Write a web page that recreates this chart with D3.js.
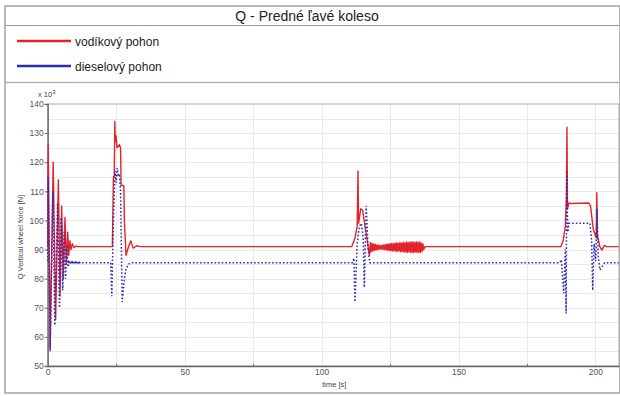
<!DOCTYPE html>
<html>
<head>
<meta charset="utf-8">
<script src="https://cdn.jsdelivr.net/npm/d3@7"></script>
<style>
  body { margin: 0; background: #fff; }
  svg { display: block; font-family: "Liberation Sans", Arial, sans-serif; }
</style>
</head>
<body>
<svg width="620" height="396"></svg>
<script>
// chart texts
title = "Q - Predné ľavé koleso";
seriesNames = ["vodíkový pohon", "dieselový pohon"];
seriesColors = ["#e3242b", "#2b2bb5"];
yLabel = "Q Vertical wheel force [N]";
xLabel = "time [s]";
yTicks = [50, 60, 70, 80, 90, 100, 110, 120, 130, 140];
xTicks = [0, 50, 100, 150, 200];

// red series (vodikovy), [time s, force kN]
redPts = [
  [0,91],[0.2,126],[0.9,56],[2.0,120],[2.9,66],[3.9,114],[4.5,74],[5.1,105],[5.7,80],
  [6.3,101],[6.8,85],[7.3,96],[7.7,88],[8.1,93],[8.5,90],[9.0,92],[9.6,90.6],[10.4,91.2],[11,91],
  [23.6,91],[24.0,115],[24.3,115],[24.5,134],[24.7,127],[25.0,129],[25.3,125],[26.2,126],
  [26.6,125],[26.8,112],[27.8,112],[28.0,100],[28.6,88],[29.2,90],[30.3,93],[31.2,90.5],[32.5,91.3],[34,91],
  [111.0,91],[112.2,94],[113.0,98],[113.3,117],[113.5,99],[114.3,104],[115.0,103.5],[116.0,97],[117.0,91],[117.5,88]
];
// the small vibration band after the 3rd event
bandStart = 117.8;
bandStep = 0.3;
bandVals = [
  92.4,89.2,92.1,89.5,91.9,89.7,91.8,89.9,91.6,90.0,91.5,90.1,91.4,90.2,91.4,90.1,
  91.6,90.0,91.7,89.9,91.8,89.8,91.9,89.7,92.0,89.6,92.1,89.5,92.0,89.6,92.2,89.4,
  92.3,89.4,92.1,89.5,92.4,89.2,92.2,89.4,92.5,89.1,92.3,89.3,92.6,89.0,92.4,89.2,
  92.6,89.0,92.5,89.1,92.7,88.9,92.4,89.2,92.6,89.0,92.5,89.1,92.6,89.0,92.3,89.4,92.0,90.0
];
redTail = [
  [137.8,91],[187.4,91],[188.2,93],[189.0,98],[189.4,108],[189.6,132],[189.8,104],[190.3,106],
  [191,105.8],[197.5,106],[198.2,105],[199.2,97],[200.3,94],[200.5,109.5],[200.7,95],[201.6,91],
  [202.4,89.8],[203.2,91.4],[204,91],[208.5,91]
];

// blue series (dieselovy)
bluePts = [
  [0,86],[0.2,115],[0.9,55],[1.9,110],[2.6,64],[3.6,106],[4.3,70],[4.9,101],[5.5,76],
  [6.0,96],[6.5,80],[7.0,91],[7.4,84],[7.8,86],[12,85.5],
  [23.0,85.5],[23.4,74],[24.0,100],[24.6,117],[25.0,113],[25.4,118],[25.8,115],[26.2,116],
  [26.6,110],[27.2,72],[28.0,80],[28.5,83],[29.5,85],[30.5,85.5],
  [111.3,85.5],[111.8,87],[112.2,72],[113.0,92],[113.8,98],[114.5,99],[115.2,94],[115.6,77],
  [116.3,105],[117.0,90],[117.6,85.5],
  [187.0,85.5],[187.6,86.5],[188.4,75],[189.0,90],[189.3,68],[189.5,117],[189.9,96],[190.3,99],
  [198.0,99],[198.6,93],[199.0,76],[199.5,92],[200.1,86],[200.6,104],[201.0,88],[201.6,83],
  [202.4,84],[203.3,85.5],[208.5,85.5]
];
// part that shows as a solid blue line
blueSolid = [[7.6,85.5],[12,85.5]];

const svg = d3.select("svg");
const W = 620, H = 396;

const plot = {left: 47.7, right: 619, top: 104, bottom: 366};

const x = d3.scaleLinear().domain([0, 208.6]).range([plot.left, plot.right]);
const y = d3.scaleLinear().domain([50, 140]).range([plot.bottom, plot.top]);

svg.append("rect").attr("width", W).attr("height", H).attr("fill", "#fff");

// frame + bands
const frame = svg.append("g").attr("fill", "none");
frame.append("rect").attr("x", 5).attr("y", 6).attr("width", 615).attr("height", 387)
  .attr("stroke", "#8a8a8a").attr("stroke-width", 1.2);
frame.append("line").attr("x1", 5).attr("x2", 620).attr("y1", 25.5).attr("y2", 25.5)
  .attr("stroke", "#9a9a9a").attr("stroke-width", 1.2);
frame.append("line").attr("x1", 5).attr("x2", 620).attr("y1", 82.5).attr("y2", 82.5)
  .attr("stroke", "#b5b5b5").attr("stroke-width", 1.5);

svg.append("text")
  .attr("x", 307).attr("y", 21)
  .attr("text-anchor", "middle")
  .attr("font-size", 14)
  .attr("fill", "#222")
  .text(title);

// legend
const legend = svg.append("g");
seriesNames.forEach(function(name, i) {
  let ly = 41 + i * 25;
  legend.append("line").attr("x1", 17).attr("x2", 71).attr("y1", ly).attr("y2", ly)
    .attr("stroke", seriesColors[i]).attr("stroke-width", 2.6);
  legend.append("text").attr("x", 75).attr("y", ly + 4.5)
    .attr("font-size", 12).attr("fill", "#222").text(name);
});

// grid
const grid = svg.append("g").attr("stroke", "#e4e4e4").attr("stroke-width", 0.8);
grid.selectAll("line.h")
  .data(d3.range(55, 140, 5))
  .join("line")
    .attr("x1", plot.left).attr("x2", plot.right)
    .attr("y1", d => Math.round(y(d)) + 0.5).attr("y2", d => Math.round(y(d)) + 0.5);
grid.selectAll("line.v")
  .data(d3.range(25, 209, 25))
  .join("line")
    .attr("y1", plot.top).attr("y2", plot.bottom)
    .attr("x1", d => Math.round(x(d)) + 0.5).attr("x2", d => Math.round(x(d)) + 0.5);

// plot border
svg.append("rect").attr("x", plot.left).attr("y", plot.top)
  .attr("width", plot.right - plot.left).attr("height", plot.bottom - plot.top)
  .attr("fill", "none").attr("stroke", "#a8a8a8").attr("stroke-width", 1);

// axes
const yAxis = svg.append("g")
  .attr("transform", `translate(${plot.left},0)`)
  .call(d3.axisLeft(y).tickValues(yTicks).tickSize(3).tickPadding(1).tickFormat(d3.format("d")));
const xAxis = svg.append("g")
  .attr("transform", `translate(0,${plot.bottom})`)
  .call(d3.axisBottom(x).tickValues(xTicks).tickSize(0).tickPadding(3).tickFormat(d3.format("d")));
svg.append("g")
  .attr("transform", `translate(0,${plot.bottom})`)
  .call(d3.axisTop(x).tickValues([25, 75, 125, 175]).tickSize(2).tickFormat(""))
  .call(g => g.select(".domain").remove());

svg.selectAll(".domain").attr("stroke", "#666").attr("stroke-width", 1.3);
svg.selectAll(".tick line").attr("stroke", "#666");
svg.selectAll(".tick text").attr("fill", "#555").attr("font-size", 8.5)
  .attr("font-family", "Liberation Sans, Arial, sans-serif");

svg.append("text").attr("x", 38).attr("y", 97)
  .attr("font-size", 7.5).attr("fill", "#444")
  .text("x 10").append("tspan").attr("dy", -3).attr("font-size", 6).text("3");

svg.append("text")
  .attr("transform", `translate(23,${(plot.top + plot.bottom) / 2 + 2}) rotate(-90)`)
  .attr("text-anchor", "middle").attr("font-size", 7.5).attr("fill", "#444")
  .text(yLabel);
svg.append("text")
  .attr("x", (plot.left + plot.right) / 2 + 1).attr("y", 387)
  .attr("text-anchor", "middle").attr("font-size", 7.5).attr("fill", "#444")
  .text(xLabel);

// lines
const line = d3.line().x(d => x(d[0])).y(d => y(d[1]));

let bandPts = bandVals.map((v, i) => [bandStart + i * bandStep, v]);
let redAll = redPts.concat(bandPts, redTail);

const lines = svg.append("g").attr("fill", "none");
lines.append("path").datum(redAll)
  .attr("d", line)
  .attr("stroke", seriesColors[0]).attr("stroke-width", 1.4)
  .attr("stroke-linejoin", "round");
lines.append("path").datum(blueSolid)
  .attr("d", line)
  .attr("stroke", seriesColors[1]).attr("stroke-width", 1.6);
lines.append("path").datum(bluePts)
  .attr("d", line)
  .attr("stroke", seriesColors[1]).attr("stroke-width", 1.5)
  .attr("stroke-dasharray", "1.6,2");
</script>
</body>
</html>
